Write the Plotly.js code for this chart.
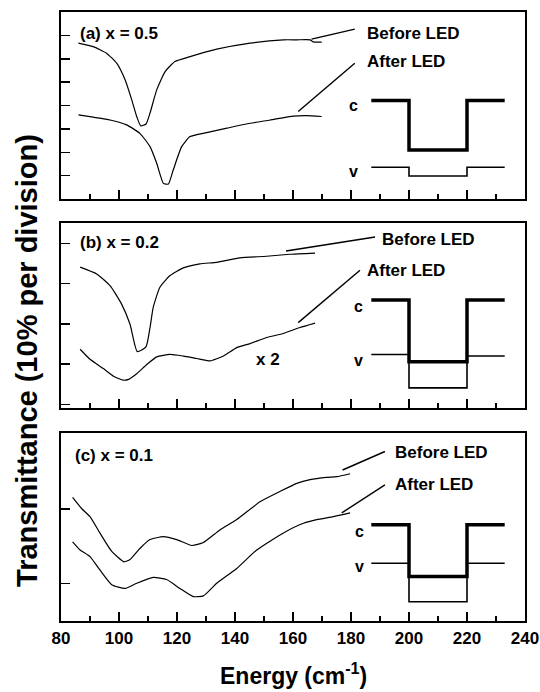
<!DOCTYPE html>
<html><head><meta charset="utf-8">
<script src="https://cdn.plot.ly/plotly-3.0.1.min.js"></script>
<style>html,body{margin:0;padding:0;background:#fff}#chart{width:540px;height:692px}</style>
</head><body><div id="chart"></div>
<script>
// ---- data (energy in cm^-1, transmittance in % with arbitrary offsets per panel) ----
const energyBeforeA = [86, 91.1, 95.7, 99.2, 102.1, 104.4, 106.1, 107.5, 109.3, 110.7, 113, 115.9, 119.3, 124.5, 133.7, 145.2, 156.7, 161.3, 165.9, 167, 169.9];
const transBeforeA  = [66.7, 65.2, 62.4, 58.1, 51.0, 42.4, 35.3, 31.3, 32.1, 36.8, 46.7, 54.5, 58.8, 60.9, 64.1, 66.7, 68.1, 68.1, 68.1, 67.2, 67.1];
const energyAfterA  = [86, 91.1, 96.9, 102.6, 107.2, 110.7, 113, 115.3, 117, 118.7, 121.6, 124.5, 130.2, 137.2, 145.2, 152.1, 160.1, 164.7, 169.9];
const transAfterA   = [36, 35, 33.8, 31.7, 28.1, 22.4, 15.3, 6.7, 6.4, 12.4, 22.4, 26.7, 28.4, 30.3, 32.4, 33.8, 35.5, 35.7, 35.3];

const energyBeforeB = [86.6, 92.3, 96.9, 100.9, 103.8, 106.3, 109.3, 110.7, 111.8, 114.1, 117.6, 122.2, 127.9, 133.7, 141.7, 150.9, 158.9, 167.6];
const transBeforeB  = [34.1, 32.4, 29.5, 24.9, 19.9, 13.1, 14.3, 19.1, 24.1, 29.1, 32, 33.9, 34.9, 35.3, 36.4, 36.8, 37.3, 37.6];
const energyAfterB  = [86.6, 90, 94.6, 98.1, 101.5, 103.3, 106.1, 109.6, 113, 117.6, 122.2, 126.8, 131.4, 136, 140.6, 145.2, 150.9, 156.7, 162.4, 167.6];
const transAfterB   = [13.7, 11.2, 8.9, 7, 6, 6.2, 7.6, 9.9, 11.8, 12.4, 12, 11.4, 10.8, 12, 14.1, 15.1, 16.6, 17.6, 19.1, 20.2];

const energyBeforeC = [84, 87.1, 90, 93.4, 97.5, 101.7, 103.8, 107.2, 110.7, 115.3, 119.9, 125.1, 129.1, 134.8, 140.6, 148.6, 155.5, 161.3, 165.9, 171.6, 175.1, 179.7];
const transBeforeC  = [21.6, 20.1, 19, 16.8, 14.3, 12.9, 13.2, 14.7, 15.9, 16.3, 15.9, 15.1, 15.5, 17.2, 18.6, 21, 22.4, 23.5, 24, 24.3, 24.4, 24.8];
const energyAfterC  = [84, 86.6, 90, 93.4, 97.5, 102.1, 106.1, 111.8, 116.4, 121, 125.6, 129.1, 133.7, 140.6, 147.5, 156.7, 163.6, 168.2, 173.9, 179.7];
const transAfterC   = [15.6, 14.5, 13.6, 11.8, 9.8, 9.3, 10, 10.8, 10.5, 9.3, 8.2, 8.3, 10, 12, 14.5, 16.8, 18.1, 18.6, 19, 19.5];

// band-diagram insets (conduction c / valence v)
const bandX  = [187, 200, 200, 220, 220, 233];
const bandCA = [42.1, 42.1, 21, 21, 42.1, 42.1];
const bandVA = [13.6, 13.6, 9.85, 9.85, 13.6, 13.6];
const bandCB = [25.9, 25.9, 10.6, 10.6, 25.9, 25.9];
const bandVB = [12.4, 12.4, 4.1, 4.1, 12.0, 12.0];
const bandCC = [17.9, 17.9, 10.9, 10.9, 17.9, 17.9];
const bandVC = [12.7, 12.7, 7.5, 7.5, 12.7, 12.7];

// leader lines from labels to curves
const leadBeforeAX = [166.4, 181.3], leadBeforeAY = [68.4, 72.7];
const leadAfterAX  = [161.8, 181.3], leadAfterAY  = [37.4, 58.1];
const leadBeforeBX = [157.6, 188.3], leadBeforeBY = [38.1, 41.6];
const leadAfterBX  = [161.8, 183.1], leadAfterBY  = [20.3, 33.3];
const leadBeforeCX = [177.1, 191.7], leadBeforeCY = [25.3, 27.8];
const leadAfterCX  = [176.8, 191.7], leadAfterCY  = [19.5, 23.3];

const xTickVals = [80, 100, 120, 140, 160, 180, 200, 220, 240];
const panelLabels = ['(a) x = 0.5', '(b) x = 0.2', '(c) x = 0.1'];
const seriesNames = ['Before LED', 'After LED'];

// ---- build ----
const FONT = 'Liberation Sans, Arial, sans-serif';
function line(x, y, xa, ya, w, smooth) {
  return {x: x, y: y, xaxis: xa, yaxis: ya, type: 'scatter', mode: 'lines',
          line: smooth ? {color: '#000', width: w, shape: 'spline', smoothing: 0.5} : {color: '#000', width: w, shape: 'linear'},
          hoverinfo: 'skip', showlegend: false};
}
const traces = [
  line(energyBeforeA, transBeforeA, 'x', 'y', 1.2, true),
  line(energyAfterA, transAfterA, 'x', 'y', 1.2, true),
  line(leadBeforeAX, leadBeforeAY, 'x', 'y', 1.4),
  line(leadAfterAX, leadAfterAY, 'x', 'y', 1.4),
  line(bandX, bandCA, 'x', 'y', 3.5),
  line(bandX, bandVA, 'x', 'y', 1.6),

  line(energyBeforeB, transBeforeB, 'x2', 'y2', 1.2, true),
  line(energyAfterB, transAfterB, 'x2', 'y2', 1.2, true),
  line(leadBeforeBX, leadBeforeBY, 'x2', 'y2', 1.4),
  line(leadAfterBX, leadAfterBY, 'x2', 'y2', 1.4),
  line(bandX, bandCB, 'x2', 'y2', 3.5),
  line(bandX, bandVB, 'x2', 'y2', 1.6),

  line(energyBeforeC, transBeforeC, 'x3', 'y3', 1.2, true),
  line(energyAfterC, transAfterC, 'x3', 'y3', 1.2, true),
  line(leadBeforeCX, leadBeforeCY, 'x3', 'y3', 1.4),
  line(leadAfterCX, leadAfterCY, 'x3', 'y3', 1.4),
  line(bandX, bandCC, 'x3', 'y3', 3.5),
  line(bandX, bandVC, 'x3', 'y3', 1.6)
];

function xax(anchor, labels) {
  return {anchor: anchor, range: [80, 240], tickvals: xTickVals, ticktext: xTickVals.map(String),
    showticklabels: labels, ticks: 'inside', ticklen: 9, tickwidth: 1.5, tickcolor: '#000',
    minor: {tickvals: [90, 110, 130, 150, 170, 190, 210, 230], ticks: 'inside', ticklen: 5, tickwidth: 1.5, tickcolor: '#000'},
    showline: true, linewidth: 2, linecolor: '#000', mirror: true, showgrid: false, zeroline: false,
    tickfont: {family: FONT, size: 17, color: '#000', weight: 700}, ticklabelstandoff: 1, fixedrange: true};
}
function yax(anchor, domain, range, tv) {
  return {anchor: anchor, domain: domain, range: range, tickvals: tv, showticklabels: false,
    ticks: 'inside', ticklen: 9, tickwidth: 1.5, tickcolor: '#000',
    showline: true, linewidth: 2, linecolor: '#000', mirror: true, showgrid: false, zeroline: false, fixedrange: true};
}
function ann(text, x, y, xr, yr, size, xanchor) {
  return {text: text, x: x, y: y, xref: xr, yref: yr, showarrow: false, xanchor: xanchor || 'left', yanchor: 'middle',
          font: {family: FONT, size: size, color: '#000', weight: 700}};
}

const layout = {
  width: 540, height: 692,
  margin: {l: 61, r: 15, t: 12, b: 71},
  paper_bgcolor: '#fff', plot_bgcolor: '#fff',
  showlegend: false,
  xaxis: xax('y', false),
  xaxis2: xax('y2', false),
  xaxis3: xax('y3', true),
  yaxis: yax('x', [0.6929, 1], [0, 80], [10, 20, 30, 40, 50, 60, 70]),
  yaxis2: yax('x2', [0.3498, 0.6535], [-0.9, 45.06], [0, 10, 20, 30, 40]),
  yaxis3: yax('x3', [0, 0.3087], [4.9, 30.3], [10, 20]),
  annotations: [
    ann(panelLabels[0], 85.9, 71.0, 'x', 'y', 17),
    ann(seriesNames[0], 184.8, 71.0, 'x', 'y', 17),
    ann(seriesNames[1], 184.8, 58.7, 'x', 'y', 17),
    ann('c', 180.7, 39.8, 'x', 'y', 16, 'center'),
    ann('v', 180.7, 11.7, 'x', 'y', 16, 'center'),

    ann(panelLabels[1], 85.9, 40.2, 'x2', 'y2', 17),
    ann(seriesNames[0], 190, 40.9, 'x2', 'y2', 17),
    ann(seriesNames[1], 184.8, 33.3, 'x2', 'y2', 17),
    ann('x 2', 151.5, 11.2, 'x2', 'y2', 17, 'center'),
    ann('c', 182.5, 24.3, 'x2', 'y2', 16, 'center'),
    ann('v', 182.5, 10.8, 'x2', 'y2', 16, 'center'),

    ann(panelLabels[2], 84.1, 27.2, 'x3', 'y3', 17),
    ann(seriesNames[0], 194.6, 27.7, 'x3', 'y3', 17),
    ann(seriesNames[1], 194.6, 23.3, 'x3', 'y3', 17),
    ann('c', 183.1, 17.0, 'x3', 'y3', 16, 'center'),
    ann('v', 183.1, 12.2, 'x3', 'y3', 16, 'center'),

    {text: 'Energy (cm<sup>-1</sup>)', x: 0.501, y: -0.087, xref: 'paper', yref: 'paper', showarrow: false,
     xanchor: 'center', yanchor: 'middle', font: {family: FONT, size: 23, color: '#000', weight: 700}},
    {text: 'Transmittance (10% per division)', x: -0.0733, y: 0.4286, xref: 'paper', yref: 'paper', showarrow: false,
     textangle: -90, xanchor: 'center', yanchor: 'middle', font: {family: FONT, size: 29, color: '#000', weight: 700}}
  ]
};

Plotly.newPlot('chart', traces, layout, {displayModeBar: false, staticPlot: true});
</script>
</body></html>
